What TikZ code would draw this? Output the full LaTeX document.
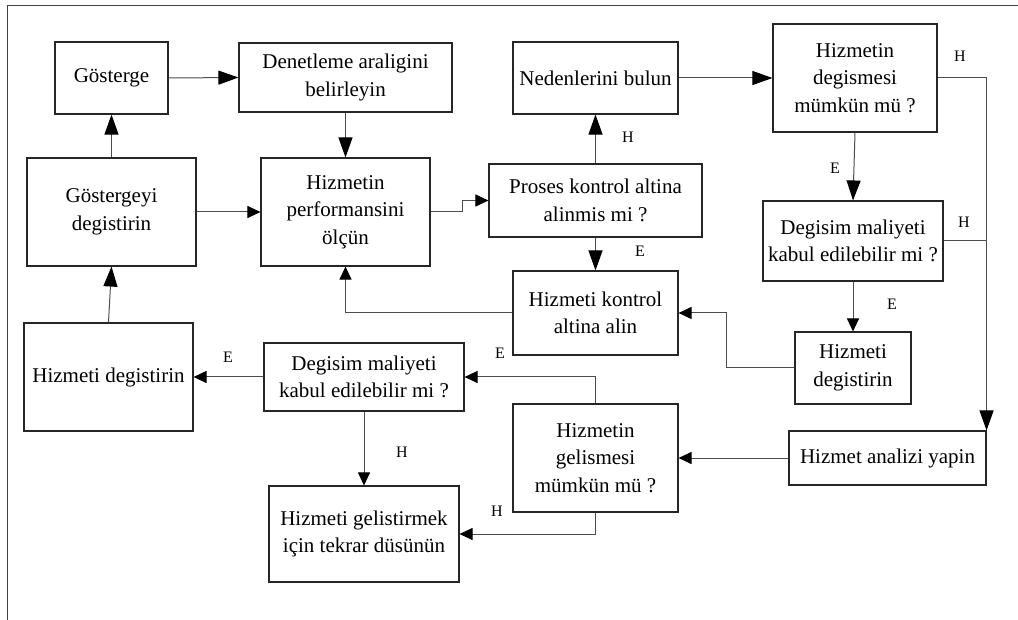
\documentclass[tikz,border=0pt]{standalone}
\usepackage{fontspec}
\setmainfont{Liberation Serif}
\newfontfamily\boxfont{Liberation Serif}
\usetikzlibrary{arrows.meta}

\begin{document}
\begin{tikzpicture}[x=1pt,y=-1pt,
  box/.style={draw=black!85, line width=1.1pt, align=center, inner sep=0pt,
              font=\boxfont\fontsize{21}{27.5}\selectfont},
  link/.style={draw=black!70, line width=1pt},
  big/.style={link, -{Triangle[length=20pt,width=14pt,fill=black,color=black]}},
  small/.style={link, -{Triangle[length=13pt,width=12pt,fill=black,color=black]}},
  lbl/.style={font=\boxfont\fontsize{16}{16}\selectfont, inner sep=0pt}]

\useasboundingbox (0,0) rectangle (1018,620);

% outer frame (top and left edges)
\draw[black!75, line width=1pt] (1018,5.3) -- (7.3,5.3) -- (7.3,620);

% boxes
\node[box, minimum width=113pt, minimum height=72pt] (gos) at (111.5,78) {Gösterge};
\node[box, minimum width=213pt, minimum height=69pt] (den) at (345.5,77.5) {Denetleme araligini\\belirleyin};
\node[box, minimum width=169pt, minimum height=108pt] (gd) at (111.5,212) {Göstergeyi\\degistirin};
\node[box, minimum width=169pt, minimum height=108pt] (perf) at (345.5,212) {Hizmetin\\performansini\\ölçün};
\node[box, minimum width=165pt, minimum height=72pt] (ned) at (595.5,78) {Nedenlerini bulun};
\node[box, minimum width=164pt, minimum height=108pt] (hd) at (855,78) {Hizmetin\\degismesi\\mümkün mü ?};
\node[box, minimum width=213pt, minimum height=73pt] (pro) at (595.5,200.5) {Proses kontrol altina\\alinmis mi ?};
\node[box, minimum width=180pt, minimum height=80pt] (dm) at (853,241) {Degisim maliyeti\\kabul edilebilir mi ?};
\node[box, minimum width=165pt, minimum height=84pt] (hk) at (595.5,313) {Hizmeti kontrol\\altina alin};
\node[box, minimum width=116pt, minimum height=72pt] (hdr) at (853,368) {Hizmeti\\degistirin};
\node[box, minimum width=197pt, minimum height=54pt] (ha) at (887.5,458) {Hizmet analizi yapin};
\node[box, minimum width=165pt, minimum height=108pt] (hg) at (595.5,458) {Hizmetin\\gelismesi\\mümkün mü ?};
\node[box, minimum width=200pt, minimum height=68pt] (dl) at (364,377) {Degisim maliyeti\\kabul edilebilir mi ?};
\node[box, minimum width=169pt, minimum height=108pt] (hdl) at (108.5,377) {Hizmeti degistirin};
\node[box, minimum width=190pt, minimum height=96pt] (gel) at (364,534) {Hizmeti gelistirmek\\için tekrar düsünün};

% connectors
\draw[big] (gos.east) -- (den.west);
\draw[big] (den.south) -- (perf.north);
\draw[big] (gd.north) -- (gos.south);
\draw[small] (gd.east) -- (perf.west);
\draw[small] (perf.east) -- ++(32,0) |- (pro.west);
\draw[big] (pro.north) -- (ned.south);
\draw[big] (pro.south) -- (hk.north);
\draw[small] (hk.west) -| (perf.south);
\draw[big] (ned.east) -- (hd.west);
\draw[big] (hd.south) -- (dm.north);
\draw[big] (hd.east) -| (ha.north east);
\draw[link] (dm.east) -- (dm.east -| ha.north east);
\draw[small] (dm.south) -- (hdr.north);
\draw[small] (hdr.west) -- ++(-68,0) |- (hk.east);
\draw[small] (ha.west) -- (hg.east);
\draw[small] (hg.north) |- (dl.east);
\draw[small] (hg.south) |- (gel.east);
\draw[small] (dl.west) -- (hdl.east);
\draw[small] (dl.south) -- (gel.north);
\draw[big] (hdl.north) -- (gd.south);

% branch labels
\node[lbl] (l1) at (628,137) {H};
\node[lbl] (l2) at (640,251) {E};
\node[lbl] (l3) at (835,168) {E};
\node[lbl] (l4) at (960,56) {H};
\node[lbl] (l5) at (964,222) {H};
\node[lbl] (l6) at (892,304) {E};
\node[lbl] (l7) at (228,357) {E};
\node[lbl] (l8) at (402,452) {H};
\node[lbl] (l9) at (500,353) {E};
\node[lbl] (l10) at (497,511) {H};
\end{tikzpicture}
\end{document}
